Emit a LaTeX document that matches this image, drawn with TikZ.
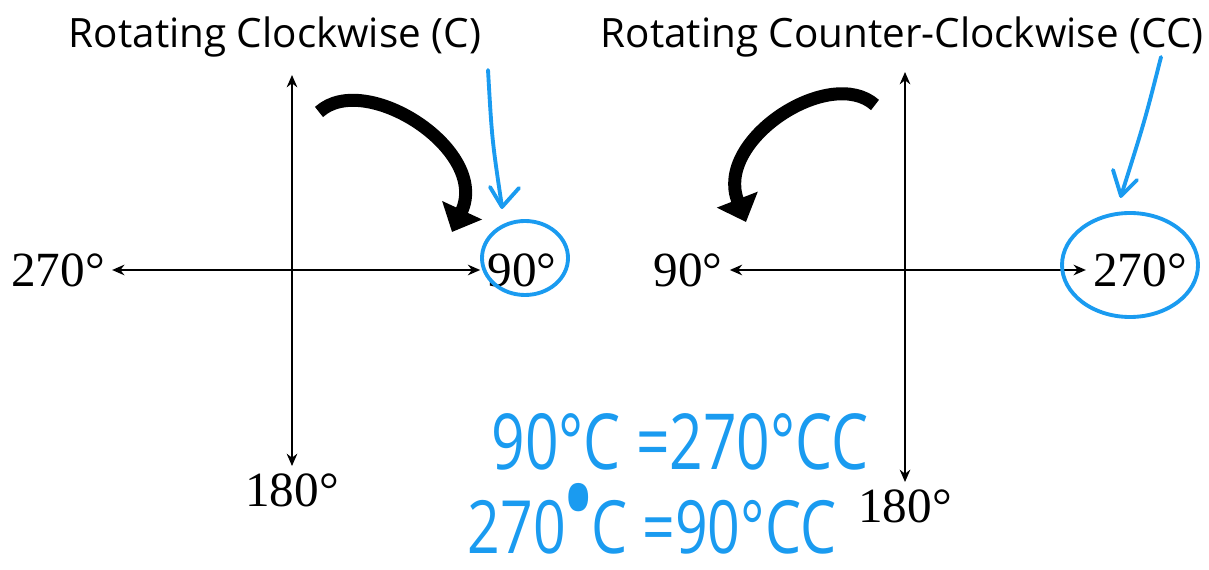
\documentclass[tikz,border=0pt]{standalone}
\usepackage{fontspec}
\setmainfont{Liberation Serif}
\newfontfamily\titlefont{Open Sans}
\usepackage{xcolor}
\usepackage{tikz}
\usetikzlibrary{arrows.meta, positioning, calc}
\definecolor{inkblue}{RGB}{26, 155, 240}

\begin{document}
\begin{tikzpicture}[x=0.02cm, y=-0.02cm,
    heading/.style={font=\titlefont\fontsize{23}{27}\selectfont, inner sep=0pt},
    degree/.style={font=\fontsize{28}{32}\selectfont, inner sep=4pt},
    axis/.style={line width=1.3pt, {Stealth[length=7pt, width=6pt]}-{Stealth[length=7pt, width=6pt]}},
    turn/.style={line width=0.26cm, -{Triangle[length=0.48cm, width=0.85cm]}},
    ink/.style={draw=inkblue, line width=2.2pt, line cap=round, line join=round},
    note/.style={text=inkblue, font=\titlefont\fontsize{44}{48}\selectfont, inner sep=0pt}]

    \useasboundingbox (0,0) rectangle (1209,570);

    % Clockwise
    \node[heading] (cwtitle) at (275,37) {Rotating Clockwise (C)};
    \node[degree] (cw270) at (58,270) {270°};
    \node[degree] (cw90) at (522,270) {90°};
    \node[degree] (cw180) at (292,490) {180°};
    \coordinate (cwtop) at (292,75);
    \coordinate (cwfrom) at (319,112);
    \coordinate (cwto) at (452,232);

    \draw[axis] (cw270) -- (cw90);
    \draw[axis] (cwtop) -- (cw180);
    \draw[turn] (cwfrom) .. controls (365,70) and (490,150) .. (cwto);

    % Counter-clockwise
    \node[heading] (cctitle) at (902,37) {Rotating Counter-Clockwise (CC)};
    \node[degree] (cc90) at (688,270) {90°};
    \node[degree] (cc270) at (1140,270) {270°};
    \node[degree] (cc180) at (905,506) {180°};
    \coordinate (cctop) at (905,72);
    \coordinate (ccfrom) at (875,105);
    \coordinate (ccto) at (746,222);

    \draw[axis] (cc90) -- (cc270);
    \draw[axis] (cctop) -- (cc180);
    \draw[turn] (ccfrom) .. controls (830,65) and (714,140) .. (ccto);

    % Notes in blue
    \coordinate (cwnote) at (488,70);
    \coordinate (cwtip) at (502,207);
    \draw[ink] (cwnote) .. controls (492,140) .. (cwtip);
    \draw[ink] (490,187) -- (cwtip) -- (519,188);
    \draw[ink] ([shift={(3,-12)}]cw90.center) ellipse [x radius=43, y radius=37];

    \coordinate (ccnote) at (1161,57);
    \coordinate (cctip) at (1121,196);
    \draw[ink] (ccnote) .. controls (1145,120) .. (cctip);
    \draw[ink] (1113,170) -- (cctip) -- (1137,180);
    \draw[ink] ([shift={(-10,-5)}]cc270.center) ellipse [x radius=68, y radius=52];

    \node[note] (eqone) at (680,442) {\scalebox{0.76}[1]{90°C =270°CC}};
    \node[note] (eqtwo) at (652,527) {\scalebox{0.74}[0.95]{270\smash{\raisebox{.18em}{\makebox[0.45em]{\scalebox{1.6}{•}}}}C =90°CC}};
\end{tikzpicture}
\end{document}
